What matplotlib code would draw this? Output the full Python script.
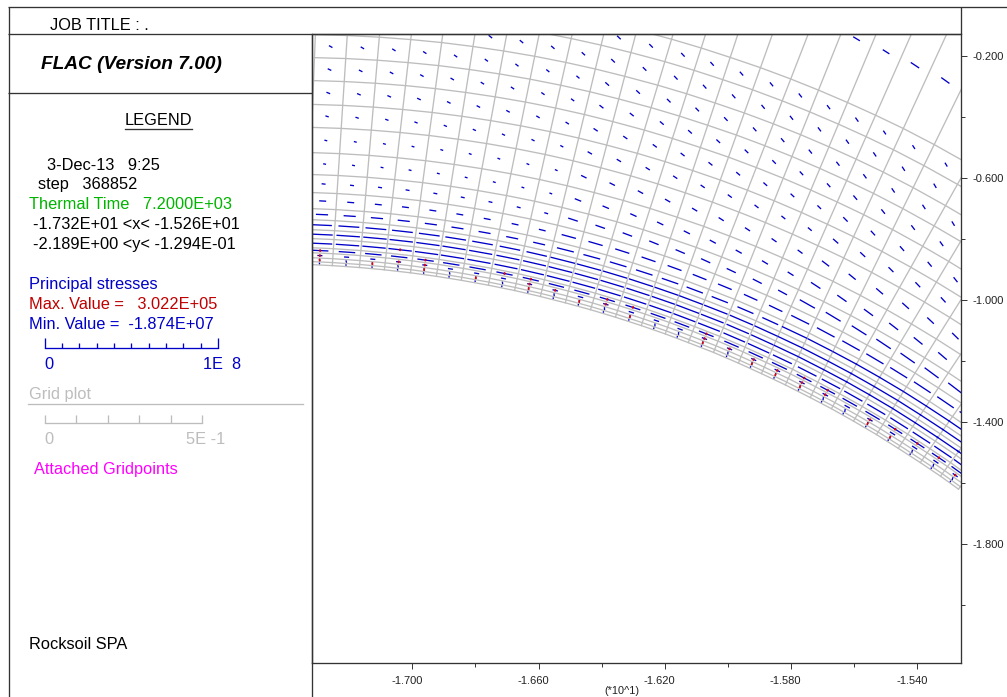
#!/usr/bin/env python3
"""FLAC principal stress plot around the tunnel lining."""

import numpy as np
import matplotlib
matplotlib.use("Agg")
import matplotlib.pyplot as plt
from matplotlib.ticker import FixedLocator, FormatStrFormatter
from matplotlib.transforms import ScaledTranslation

XMIN, XMAX = -1.732, -1.526
YMIN, YMAX = -2.189, -0.1294

# grid columns: gridpoint on the excavation face and on the outer ring
inner_x = [-1.7336, -1.7254, -1.7168, -1.7089, -1.7006, -1.6924, -1.6845, -1.6759, -1.6676, -1.6594,
           -1.6515, -1.6435, -1.6356, -1.6274, -1.6198, -1.6125, -1.6045, -1.5966, -1.5893, -1.5817,
           -1.5738, -1.5671, -1.5601, -1.5528, -1.5459, -1.5389, -1.5325, -1.5268]
inner_y = [-0.8838, -0.8878, -0.8940, -0.9015, -0.9113, -0.9228, -0.9359, -0.9519, -0.9693, -0.9889,
           -1.0096, -1.0322, -1.0567, -1.0842, -1.1114, -1.1399, -1.1720, -1.2070, -1.2414, -1.2784,
           -1.3200, -1.3563, -1.3969, -1.4411, -1.4860, -1.5328, -1.5773, -1.6196]
outer_x = [-1.7302, -1.7197, -1.7092, -1.6988, -1.6887, -1.6784, -1.6683, -1.6582, -1.6480, -1.6384,
           -1.6288, -1.6178, -1.6084, -1.5992, -1.5896, -1.5800, -1.5712, -1.5620, -1.5531, -1.5443,
           -1.5345, -1.5235, -1.5146, -1.5058, -1.4970, -1.4884, -1.4805, -1.4727]
outer_y = [0.0225, 0.0199, 0.0147, 0.0068, -0.0030, -0.0161, -0.0312, -0.0488, -0.0695, -0.0914,
           -0.1160, -0.1464, -0.1752, -0.2060, -0.2397, -0.2767, -0.3131, -0.3537, -0.3953, -0.4388,
           -0.4915, -0.5551, -0.6094, -0.6664, -0.7253, -0.7866, -0.8455, -0.9061]
# position of each grid ring along a column, 0 = face, 1 = outer ring
ring_pos = [0, 0.011, 0.025, 0.043, 0.061, 0.094, 0.126, 0.162, 0.202, 0.26,
            0.325, 0.404, 0.495, 0.578, 0.664, 0.747, 0.83, 0.917, 1.0, 1.44]

# principal stress (MPa) by ring row, face outwards, for the left/middle/right thirds of the plot
stress_left = [0.9, 1.4, 2.9, 9.5, 13.5, 13.5, 12, 7, 4, 2.3, 1.7, 1.7, 2, 2.3, 2.3, 2.3, 2.6, 2.6, 3]
stress_mid = [0.9, 1.6, 3.2, 9, 13.5, 14, 14.5, 10, 8.5, 5.8, 4, 3.5, 2.9, 2.9, 2.9, 2.9, 2.9, 2.9, 4.5]
stress_right = [0.9, 1.7, 3.5, 9.5, 12, 16, 16, 16, 11.5, 10, 6.5, 5.2, 4, 3.6, 3.3, 3, 2.9, 2.6, 5.8]
# clockwise turn of the stress from the ring direction, degrees
stress_turn = [70, 70, 0, 0, 0, 0, 0, 0, 1, 4, 8, 12, 16, 20, 24, 28, 30, 30, 8]

# zones showing tensile stress
tension_cols = [0, 0, 0, 2, 3, 3, 4, 4, 4, 6, 7, 8, 8, 8, 9, 10, 11, 11, 12, 12, 15, 15, 15, 16, 17, 17,
                18, 18, 19, 19, 19, 20, 20, 22, 22, 23, 23, 24, 25, 26]
tension_rows = [3, 2, 1, 1, 4, 2, 3, 2, 1, 1, 3, 3, 2, 1, 2, 1, 3, 2, 3, 1, 3, 2, 1, 2, 2, 1,
                2, 1, 3, 2, 1, 3, 2, 2, 1, 3, 1, 3, 3, 2]
tension_mpa = 1.5

x_ticks = [-1.700, -1.660, -1.620, -1.580, -1.540]
x_minor = [-1.680, -1.640, -1.600, -1.560]
y_ticks = [-0.200, -0.600, -1.000, -1.400, -1.800]
y_minor = [-0.400, -0.800, -1.200, -1.600, -2.000]

BLUE = "#0000c8"
RED = "#c00000"
GREEN = "#00b400"
GRAY = "#bdbdbd"
MAGENTA = "#ff00ff"
LINE = "#333333"

W, H = 1007, 697
AX_L, AX_R, AX_T, AX_B = 311.5, 961, 34, 663
STRESS_BAR_PX = 174.0  # length of the 1E8 scale bar


def plot_mesh(ax):
    ix, iy = np.array(inner_x), np.array(inner_y)
    ox, oy = np.array(outer_x), np.array(outer_y)
    t = np.array(ring_pos)[:, None]
    gx = ix + t * (ox - ix)
    gy = iy + t * (oy - iy)
    for r in range(gx.shape[0]):
        ax.plot(gx[r], gy[r], color=GRAY, lw=0.95, zorder=1)
    for c in range(gx.shape[1]):
        ax.plot(gx[:, c], gy[:, c], color=GRAY, lw=0.95, zorder=1)
    return gx, gy


def plot_stresses(ax, gx, gy):
    px_x = (AX_R - AX_L) / (XMAX - XMIN)
    px_y = (AX_B - AX_T) / (YMAX - YMIN)
    n_rows, n_cols = gx.shape[0] - 1, gx.shape[1] - 1

    def zone(r, c):
        cx = (gx[r, c] + gx[r, c + 1] + gx[r + 1, c] + gx[r + 1, c + 1]) / 4
        cy = (gy[r, c] + gy[r, c + 1] + gy[r + 1, c] + gy[r + 1, c + 1]) / 4
        along = np.arctan2((gy[r, c + 1] - gy[r, c]) * px_y, (gx[r, c + 1] - gx[r, c]) * px_x)
        return cx, cy, along

    def mark(cx, cy, angle, mpa, color, lw, z):
        half = mpa * STRESS_BAR_PX / 100 / 2
        dx, dy = half * np.cos(angle) / px_x, half * np.sin(angle) / px_y
        ax.plot([cx - dx, cx + dx], [cy - dy, cy + dy], color=color, lw=lw, zorder=z,
                solid_capstyle="butt")

    for r in range(n_rows):
        for c in range(n_cols):
            if c < 9:
                mpa = stress_left[r]
            elif c < 18:
                mpa = stress_mid[r]
            else:
                mpa = stress_right[r]
            cx, cy, along = zone(r, c)
            mark(cx, cy, along - np.radians(stress_turn[r]), mpa, BLUE, 0.95, 2)

    for c, r in zip(tension_cols, tension_rows):
        cx, cy, along = zone(r, c)
        mark(cx, cy, along + np.pi / 2, tension_mpa, "#e00000", 1.2, 3)


def panel(fig):
    ax = fig.add_axes([0, 0, 1, 1], zorder=5)
    ax.set_xlim(0, W)
    ax.set_ylim(H, 0)
    ax.axis("off")
    ax.patch.set_alpha(0)

    for xs, ys in [((8, 1007), (7, 7)), ((8, 961), (34, 34)), ((8, 311.5), (93, 93)),
                   ((8.5, 8.5), (7, 697)), ((311.5, 311.5), (34, 697)), ((961, 961), (7, 34))]:
        ax.plot(xs, ys, color=LINE, lw=0.95, solid_capstyle="butt")

    size = 11.75
    rows = [
        (50, 30, "JOB TITLE : .", "black"),
        (47, 170, "3-Dec-13   9:25", "black"),
        (38, 189, "step   368852", "black"),
        (29, 209, "Thermal Time   7.2000E+03", GREEN),
        (33, 229, "-1.732E+01 <x< -1.526E+01", "black"),
        (33, 249, "-2.189E+00 <y< -1.294E-01", "black"),
        (125, 125, "LEGEND", "black"),
        (29, 289, "Principal stresses", BLUE),
        (29, 309, "Max. Value =   3.022E+05", RED),
        (29, 329, "Min. Value =  -1.874E+07", BLUE),
        (44, 369, "0", BLUE),
        (203, 369, "1E  8", BLUE),
        (29, 399, "Grid plot", GRAY),
        (44, 444, "0", GRAY),
        (186, 444, "5E -1", GRAY),
        (34, 474, "Attached Gridpoints", MAGENTA),
        (29, 649, "Rocksoil SPA", "black"),
    ]
    for x, y, s, col in rows:
        ax.text(x, y, s, color=col, fontsize=size, family="Liberation Sans", va="baseline", ha="left")
    ax.text(41, 69, "FLAC (Version 7.00)", fontsize=13.8, family="Liberation Sans",
            fontweight="bold", fontstyle="italic", va="baseline", ha="left")
    ax.plot([125, 192], [128.5, 128.5], color=LINE, lw=0.95)

    # stress scale bar, ten divisions
    ax.plot([44.5, 218], [348, 348], color=BLUE, lw=0.95)
    for i in range(11):
        x = 44.5 + i * 17.35
        ax.plot([x, x], [348, 338 if i in (0, 10) else 343], color=BLUE, lw=0.95, solid_capstyle="butt")

    # grid scale bar, five divisions
    ax.plot([28, 303], [404, 404], color=GRAY, lw=0.95)
    ax.plot([44.5, 202], [423, 423], color=GRAY, lw=0.95)
    for i in range(6):
        x = 44.5 + i * 31.5
        ax.plot([x, x], [423, 415], color=GRAY, lw=0.95, solid_capstyle="butt")


def main():
    fig = plt.figure(figsize=(W / 100, H / 100), dpi=100, facecolor="white")
    ax = fig.add_axes([AX_L / W, 1 - AX_B / H, (AX_R - AX_L) / W, (AX_B - AX_T) / H])
    ax.set_xlim(XMIN, XMAX)
    ax.set_ylim(YMIN, YMAX)

    gx, gy = plot_mesh(ax)
    plot_stresses(ax, gx, gy)

    ax.xaxis.set_major_locator(FixedLocator(x_ticks))
    ax.xaxis.set_minor_locator(FixedLocator(x_minor))
    ax.yaxis.set_major_locator(FixedLocator(y_ticks))
    ax.yaxis.set_minor_locator(FixedLocator(y_minor))
    ax.xaxis.set_major_formatter(FormatStrFormatter("%.3f"))
    ax.yaxis.set_major_formatter(FormatStrFormatter("%.3f"))
    ax.yaxis.tick_right()
    ax.tick_params(axis="x", which="major", length=4.2, width=0.7, color=LINE, pad=5.5,
                   labelsize=8.0, labelcolor="#222222")
    ax.tick_params(axis="x", which="minor", length=2.8, width=0.7, color=LINE)
    ax.tick_params(axis="y", which="major", length=4.5, width=0.7, color=LINE, pad=3.5,
                   labelsize=8.0, labelcolor="#222222")
    ax.tick_params(axis="y", which="minor", length=3.2, width=0.7, color=LINE)
    for lab in ax.get_xticklabels() + ax.get_yticklabels():
        lab.set_family("Liberation Sans")
    shift = ScaledTranslation(-5 / 100, 0, fig.dpi_scale_trans)
    for lab in ax.get_xticklabels():
        lab.set_transform(lab.get_transform() + shift)
    for spine in ax.spines.values():
        spine.set_color(LINE)
        spine.set_linewidth(0.95)

    fig.text(622 / W, 1 - 691.5 / H, "(*10^1)", fontsize=7.9, family="Liberation Sans",
             ha="center", va="center", color="#222222")

    panel(fig)
    fig.savefig("out.png", dpi=100)


if __name__ == "__main__":
    main()
